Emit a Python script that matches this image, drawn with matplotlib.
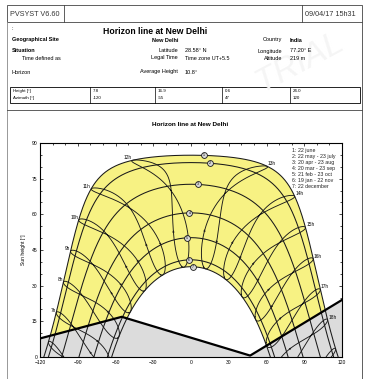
import numpy as np
import matplotlib.pyplot as plt
from matplotlib.patches import Rectangle
from matplotlib.lines import Line2D

# site and horizon, as printed in the report
LATITUDE = 28.58
LONGITUDE = 77.20
TIME_ZONE = 5.5

horizon_azimuth = [-120, -55, 47, 120]
horizon_height = [7.8, 16.9, 0.6, 24.0]

# sun path dates (day of year of the first date of each pair)
path_names = ["22 june", "22 may - 23 july", "20 apr - 23 aug", "20 mar - 23 sep",
              "21 feb - 23 oct", "19 jan - 22 nov", "22 december"]
path_days = [173, 142, 110, 79, 52, 19, 356]

# legal hours drawn as hour lines, and those that carry a label
hour_lines = list(range(6, 20))
hour_labels = list(range(7, 19))

W, H = 377, 379
plt.rcParams["font.family"] = ["Liberation Sans", "DejaVu Sans"]


def px(x, y):
    return x / W, 1 - y / H


def sun_position(day, legal_hour):
    day = np.asarray(day, dtype=float)
    decl = np.radians(23.45 * np.sin(np.radians(360 * (284 + day) / 365)))
    b = np.radians(360 * (day - 81) / 364)
    eot = 9.87 * np.sin(2 * b) - 7.53 * np.cos(b) - 1.5 * np.sin(b)
    solar = legal_hour - TIME_ZONE + LONGITUDE / 15 + eot / 60
    ha = np.radians(15 * (solar - 12))
    lat = np.radians(LATITUDE)
    sin_alt = np.sin(lat) * np.sin(decl) + np.cos(lat) * np.cos(decl) * np.cos(ha)
    alt = np.degrees(np.arcsin(sin_alt))
    az = np.degrees(np.arctan2(np.sin(ha), np.cos(ha) * np.sin(lat) - np.tan(decl) * np.cos(lat)))
    return az, alt


def ftext(x, y, s, **kw):
    kw.setdefault("fontsize", 4)
    kw.setdefault("va", "center")
    fig.text(*px(x, y), s, **kw)


def fline(xs, ys, **kw):
    kw.setdefault("color", "black")
    kw.setdefault("lw", 0.6)
    fig.add_artist(Line2D([x / W for x in xs], [1 - y / H for y in ys],
                          transform=fig.transFigure, **kw))


fig = plt.figure(figsize=(W / 100, H / 100), dpi=100)

# faint watermark
ftext(300, 62, "TRIAL", fontsize=24, color="#f5f5f5", rotation=28, ha="center", style="italic")

# header band
fig.add_artist(Rectangle(px(7, 22), 355 / W, 17 / H, transform=fig.transFigure,
                         fill=False, lw=0.6, ec="#444444"))
fline([64, 64], [5, 22], color="#444444")
fline([302, 302], [5, 22], color="#444444")
ftext(10, 14, "PVSYST V6.60", fontsize=5.2, color="#333333")
ftext(305, 14, "09/04/17 15h31", fontsize=5.2, color="#333333")

# page frame
fline([7, 7], [22, 379], color="#888888")
fline([362, 362], [22, 379], color="#444444")
fline([7, 362], [110, 110], color="#444444")

# site block
ftext(12, 28, ":", fontsize=4)
ftext(155, 32, "Horizon line at New Delhi", fontsize=6.2, weight="bold", ha="center")
ftext(12, 40, "Geographical Site", fontsize=4, weight="bold")
ftext(178, 40, "New Delhi", fontsize=4, weight="bold", ha="right")
ftext(282, 40, "Country", fontsize=4, ha="right")
ftext(290, 40, "India", fontsize=4, weight="bold")
ftext(12, 51, "Situation", fontsize=4, weight="bold")
ftext(22, 58, "Time defined as", fontsize=4)
ftext(178, 51, "Latitude", fontsize=4, ha="right")
ftext(185, 51, "28.58° N", fontsize=4)
ftext(178, 58, "Legal Time", fontsize=4, ha="right")
ftext(185, 58, "Time zone UT+5.5", fontsize=4)
ftext(282, 51, "Longitude", fontsize=4, ha="right")
ftext(290, 51, "77.20° E", fontsize=4)
ftext(282, 58, "Altitude", fontsize=4, ha="right")
ftext(290, 58, "219 m", fontsize=4)
ftext(12, 72, "Horizon", fontsize=4)
ftext(178, 72, "Average Height", fontsize=4, ha="right")
ftext(185, 72, "10.8°", fontsize=4)

# horizon table
fig.add_artist(Rectangle(px(10, 103), 350 / W, 16 / H, transform=fig.transFigure,
                         fill=False, lw=0.6, ec="black"))
col_x = [90, 155, 222, 290]
for cx in col_x:
    fline([cx, cx], [87, 103], lw=0.5)
ftext(13, 91, "Height [°]", fontsize=3.2)
ftext(13, 98, "Azimuth [°]", fontsize=3.2)
for cx, h_val, a_val in zip(col_x, horizon_height, horizon_azimuth):
    ftext(cx + 3, 91, f"{h_val:.1f}", fontsize=3.2)
    ftext(cx + 3, 98, f"{a_val}", fontsize=3.2)

ftext(190, 125, "Horizon line at New Delhi", fontsize=4.6, weight="bold", ha="center")

# sun path chart
ax = fig.add_axes([40 / W, 1 - 357 / H, 302 / W, 214 / H])
ax.set_xlim(-120, 120)
ax.set_ylim(0, 90)

hours = np.linspace(3, 22, 800)
curves = []
for day in path_days:
    az, alt = sun_position(np.full_like(hours, day), hours)
    keep = alt > -3
    curves.append((az[keep], alt[keep]))

# yellow band between the june and december paths
jun_az, jun_alt = curves[0]
dec_az, dec_alt = curves[-1]
poly_az = np.concatenate([jun_az, dec_az[::-1]])
poly_alt = np.concatenate([jun_alt, dec_alt[::-1]])
ax.fill(poly_az, poly_alt, color="#f7f283", lw=0, zorder=1)

# far horizon
ax.fill_between(horizon_azimuth, horizon_height, 0, color="#dcdcdc", lw=0, zorder=2)

line_col = "#1a1a1a"
for az, alt in curves:
    ax.plot(az, alt, color=line_col, lw=0.75, zorder=3)

days = np.arange(1, 367)
for h in hour_lines:
    az, alt = sun_position(days, h)
    alt = np.where(alt > -3, alt, np.nan)
    ax.plot(az, alt, color=line_col, lw=0.65, zorder=3)
    # small arrows showing the course of the year
    for d in (60, 290):
        a0, h0 = sun_position(d, h)
        a1, h1 = sun_position(d + 3, h)
        if h0 > 1:
            ax.annotate("", xy=(a1, h1), xytext=(a0, h0), zorder=4,
                        arrowprops=dict(arrowstyle="-|>", lw=0.3, color=line_col,
                                        mutation_scale=3, shrinkA=0, shrinkB=0))

ax.plot(horizon_azimuth, horizon_height, color="black", lw=1.6, zorder=4)

# hour labels at the june path
for h in hour_labels:
    az, alt = sun_position(path_days[0], h)
    if h <= 12:
        ax.annotate(f"{h}h", (az, alt), xytext=(-0.5, 1.8), textcoords="offset points",
                    ha="right", va="center", fontsize=3.4, zorder=5)
    else:
        ax.annotate(f"{h}h", (az, alt), xytext=(0.5, 1.8), textcoords="offset points",
                    ha="left", va="center", fontsize=3.4, zorder=5)

# date markers
for i, day in enumerate(path_days):
    az, alt = sun_position(day, 12.45)
    ax.plot(az, alt, "o", ms=4.2, mfc="#d8d8d8", mec=line_col, mew=0.6, zorder=5)
    ax.text(az, alt, str(i + 1), fontsize=2.6, ha="center", va="center", zorder=6)

ax.set_xticks(np.arange(-120, 121, 30))
ax.set_xticks(np.arange(-120, 121, 10), minor=True)
ax.set_yticks(np.arange(0, 91, 15))
ax.set_yticks(np.arange(0, 91, 5), minor=True)
ax.tick_params(which="both", direction="in", top=True, right=True, labelsize=3.6,
               width=0.5, pad=2)
ax.tick_params(which="major", length=2.5)
ax.tick_params(which="minor", length=1.3)
for sp in ax.spines.values():
    sp.set_linewidth(0.8)
ax.set_ylabel("Sun height [°]", fontsize=3.6, labelpad=4)

for i, name in enumerate(path_names):
    ftext(292, 151 + i * 6, f"{i + 1}: {name}", fontsize=3.8, color="#222222")

fig.savefig("out.png", dpi=100)
